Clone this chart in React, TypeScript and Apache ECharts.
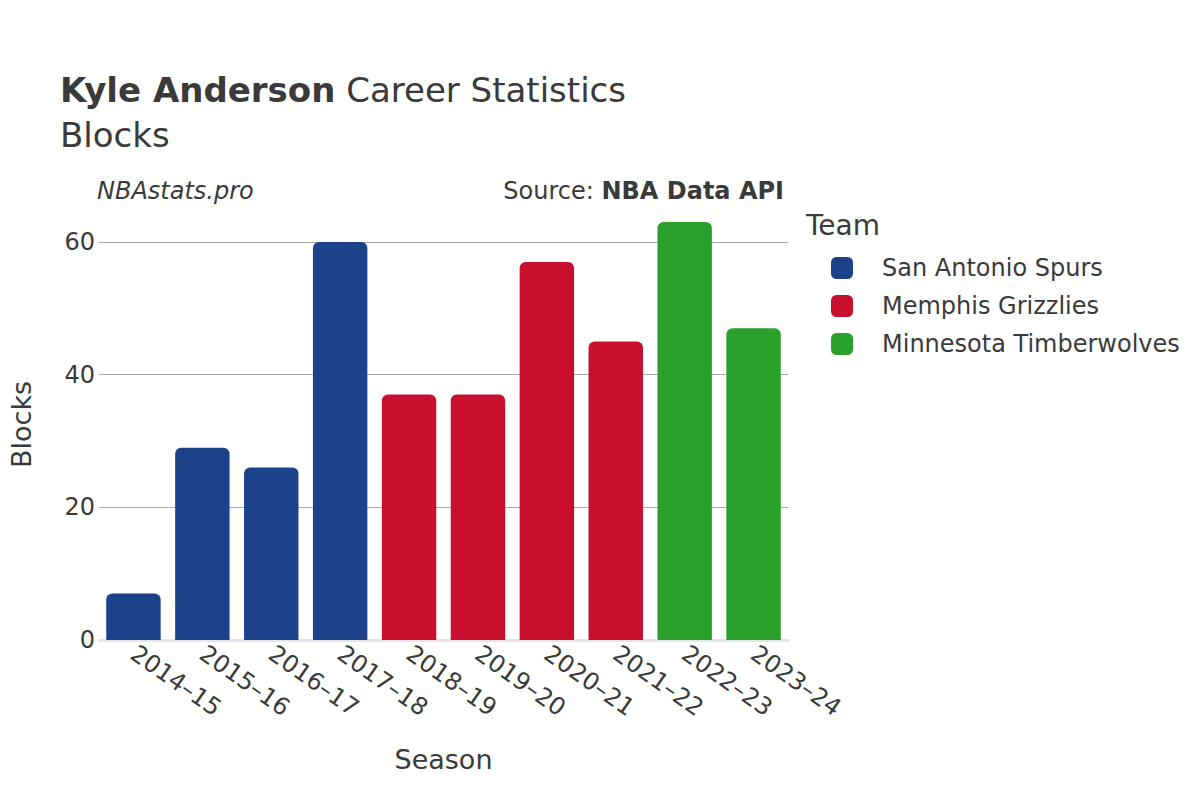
import React, { useEffect, useRef } from "react";
import * as echarts from "echarts";

const seasons = ["2014–15", "2015–16", "2016–17", "2017–18", "2018–19", "2019–20", "2020–21", "2021–22", "2022–23", "2023–24"];
const teams = ["San Antonio Spurs", "Memphis Grizzlies", "Minnesota Timberwolves"];
const teamColors = ["#1d428a", "#c8102e", "#2ca02c"];
const spursBlocks = [7, 29, 26, 60, null, null, null, null, null, null];
const grizzliesBlocks = [null, null, null, null, 37, 37, 57, 45, null, null];
const wolvesBlocks = [null, null, null, null, null, null, null, null, 63, 47];
const yTicks = [0, 20, 40, 60];

const FONT = "DejaVu Sans, sans-serif";
const TXT = "#3a3a3a";

export default function App() {
  const ref = useRef<HTMLDivElement>(null);
  useEffect(() => {
    document.body.style.margin = "0";
    const chart = echarts.init(ref.current!, null, { renderer: "svg" });
    const seriesData = [spursBlocks, grizzliesBlocks, wolvesBlocks];
    chart.setOption({
      animation: false,
      textStyle: { fontFamily: FONT, color: TXT },
      title: {
        left: 55,
        top: 62,
        text: "{b|Kyle Anderson}{n| Career Statistics}\n{n|Blocks}",
        textStyle: {
          fontWeight: "normal",
          rich: {
            b: { fontFamily: FONT, fontSize: 34, fontWeight: "bold", color: TXT, lineHeight: 45 },
            n: { fontFamily: FONT, fontSize: 34, fontWeight: "normal", color: TXT, lineHeight: 45 },
          },
        },
      },
      graphic: [
        {
          type: "text",
          left: 97,
          top: 179,
          style: { text: "NBAstats.pro", font: `italic 24px ${FONT}`, fill: TXT },
        },
        {
          type: "text",
          right: 1200 - 784,
          top: 179,
          style: {
            text: "{n|Source: }{b|NBA Data API}",
            rich: {
              n: { fontFamily: FONT, fontSize: 24, fill: TXT, fontWeight: "normal" },
              b: { fontFamily: FONT, fontSize: 24, fontWeight: "bold", fill: TXT },
            },
          },
        },
        {
          type: "text",
          left: 806,
          top: 211,
          style: { text: "Team", font: `28px ${FONT}`, fill: TXT },
        },
      ],
      legend: {
        orient: "vertical",
        left: 826,
        top: 251,
        itemWidth: 22,
        itemHeight: 22,
        itemGap: 14,
        icon: "roundRect",
        data: teams,
        textStyle: { fontFamily: FONT, fontSize: 24, color: TXT, padding: [0, 0, 0, 24] },
      },
      grid: { left: 92, right: 412, top: 640 - 65 * (398 / 60), bottom: 160, containLabel: false },
      xAxis: {
        type: "category",
        data: seasons,
        name: "Season",
        nameLocation: "middle",
        nameGap: 106,
        nameTextStyle: { fontFamily: FONT, fontSize: 27, color: TXT },
        axisLine: { show: true, lineStyle: { color: "#e6e6e6", width: 3 } },
        axisTick: { show: false },
        axisLabel: { rotate: -35, fontFamily: FONT, fontSize: 24, color: TXT, margin: 11, interval: 0 },
      },
      yAxis: {
        type: "value",
        min: 0,
        max: 65,
        interval: 20,
        name: "Blocks",
        nameLocation: "middle",
        nameGap: 64,
        nameTextStyle: { fontFamily: FONT, fontSize: 27, color: TXT },
        axisLine: { show: false },
        axisTick: { show: false },
        axisLabel: {
          fontFamily: FONT,
          fontSize: 24,
          color: TXT,
          margin: 4,
          showMaxLabel: false,
          formatter: (v: number) => (yTicks.includes(v) ? String(v) : ""),
        },
        splitLine: { show: true, showMinLine: false, showMaxLine: false, lineStyle: { color: "#a8a8a8", width: 1 } },
      },
      series: teams.map((t, i) => ({
        name: t,
        type: "bar",
        stack: "all",
        barWidth: "79%",
        data: seriesData[i],
        itemStyle: { color: teamColors[i], borderRadius: [6, 6, 0, 0] },
      })),
    });
    return () => chart.dispose();
  }, []);
  return <div ref={ref} style={{ width: 1200, height: 800 }} />;
}
